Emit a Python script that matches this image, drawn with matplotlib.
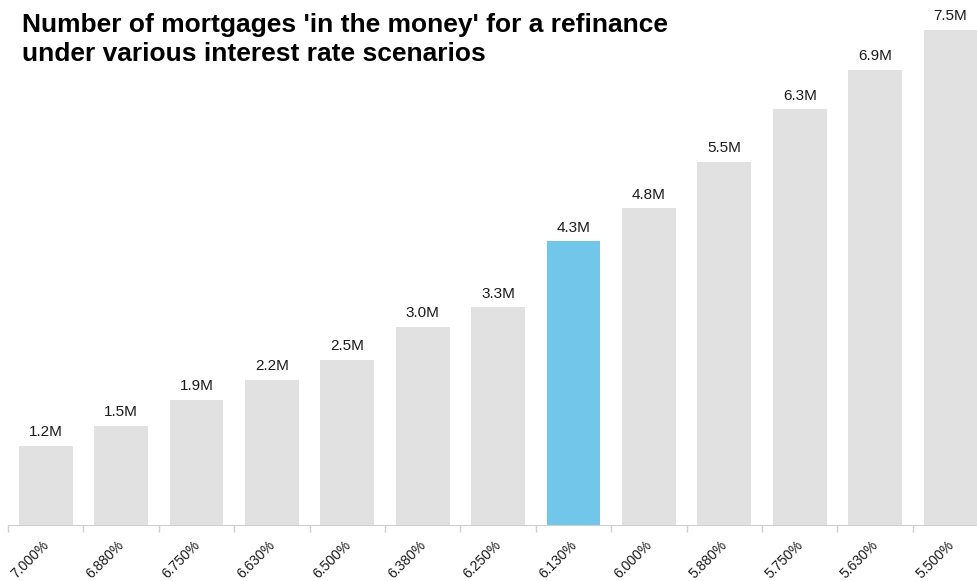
import numpy as np
import matplotlib
matplotlib.use('Agg')
import matplotlib.pyplot as plt
import matplotlib.transforms as mtransforms

plt.rcParams['font.family'] = ['Liberation Sans', 'DejaVu Sans']

# Refinance scenarios: mortgage rate vs. number of loans in the money (millions)
rates = ['7.000%', '6.880%', '6.750%', '6.630%', '6.500%', '6.380%', '6.250%',
         '6.130%', '6.000%', '5.880%', '5.750%', '5.630%', '5.500%']
mortgages_m = [1.2, 1.5, 1.9, 2.2, 2.5, 3.0, 3.3, 4.3, 4.8, 5.5, 6.3, 6.9, 7.5]
highlight = '6.130%'
title_lines = ["Number of mortgages 'in the money' for a refinance",
               "under various interest rate scenarios"]

gray = '#e1e1e1'
blue = '#71c6e9'
colors = [blue if r == highlight else gray for r in rates]

fig = plt.figure(figsize=(9.77, 5.81), dpi=100)
ax = fig.add_axes([8 / 977, 1 - 525 / 581, 1 - 8 / 977, (525 - 30) / 581])

x = np.arange(len(rates))
ax.bar(x, mortgages_m, width=0.715, color=colors, zorder=2)

for xi, v in zip(x, mortgages_m):
    ax.text(xi, v + 0.1, f'{v:.1f}M', ha='center', va='bottom',
            fontsize=11, color='#1a1a1a', clip_on=False)

# labels sit under bar centres, tick marks on category boundaries
ax.set_xticks(x)
ax.set_xticklabels(rates, rotation=45, ha='right', rotation_mode='anchor',
                   fontsize=10, color='#1a1a1a')
ax.tick_params(axis='x', which='major', length=0, pad=9)
shift = mtransforms.ScaledTranslation(-4 / 100, 0, fig.dpi_scale_trans)
for lbl in ax.get_xticklabels():
    lbl.set_transform(lbl.get_transform() + shift)
ax.set_xticks(np.arange(len(rates) + 1) - 0.5, minor=True)
ax.tick_params(axis='x', which='minor', length=5, color='#d0d0d0', width=1)
ax.set_yticks([])

# last bar runs off the right edge
ax.set_xlim(-0.5, -0.5 + 969 / 75.4)
ax.set_ylim(0, 7.5)

for side in ['top', 'right', 'left']:
    ax.spines[side].set_visible(False)
ax.spines['bottom'].set_color('#d0d0d0')

for line, base in zip(title_lines, [32, 61]):
    fig.text(22 / 977, 1 - base / 581, line, fontsize=19, fontweight='bold',
             color='#000000', ha='left', va='baseline')

fig.savefig('out.png', dpi=100)
